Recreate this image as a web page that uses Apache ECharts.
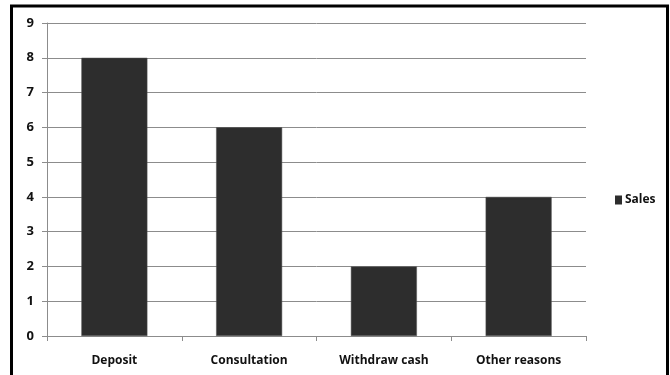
<!DOCTYPE html>
<html>
<head>
<meta charset="utf-8">
<script src="https://cdn.jsdelivr.net/npm/echarts@6/dist/echarts.min.js"></script>
<style>
  html, body { margin: 0; padding: 0; background: #fff; }
  #chart { width: 670px; height: 375px; }
</style>
</head>
<body>
<div id="chart"></div>
<script>
// Visit reasons and their counts
const categories = ['Deposit', 'Consultation', 'Withdraw cash', 'Other reasons'];
const salesValues = [8, 6, 2, 4];
const seriesName = 'Sales';
const yTicks = [0, 1, 2, 3, 4, 5, 6, 7, 8, 9];

const chart = echarts.init(document.getElementById('chart'), null, { renderer: 'canvas' });
const labelFont = '"Open Sans", Lato, sans-serif';

chart.setOption({
  animation: false,
  backgroundColor: '#ffffff',
  graphic: [{
    type: 'rect',
    shape: { x: 11.5, y: 6, width: 656, height: 400 },
    style: { fill: 'none', stroke: '#000', lineWidth: 3 },
    silent: true
  }],
  grid: { left: 47, right: 84, top: 23, bottom: 39, containLabel: false },
  legend: {
    data: [seriesName],
    orient: 'vertical',
    left: 610,
    top: 189,
    itemWidth: 7,
    itemHeight: 9,
    itemGap: 4,
    icon: 'rect',
    itemStyle: { borderWidth: 0 },
    textStyle: { fontFamily: labelFont, fontWeight: 'bold', fontSize: 12, color: '#111', padding: [0, 0, 0, -2] }
  },
  xAxis: {
    type: 'category',
    data: categories,
    axisLine: { lineStyle: { color: '#8c8c8c', width: 1 } },
    axisTick: { show: true, length: 5, alignWithLabel: false, lineStyle: { color: '#8c8c8c' } },
    axisLabel: { fontFamily: labelFont, fontWeight: 'bold', fontSize: 12, color: '#111', margin: 19 }
  },
  yAxis: {
    type: 'value',
    min: yTicks[0],
    max: yTicks[yTicks.length - 1],
    interval: 1,
    axisLine: { show: true, lineStyle: { color: '#8c8c8c', width: 1 } },
    axisTick: { show: true, length: 5, lineStyle: { color: '#8c8c8c' } },
    splitLine: { show: true, lineStyle: { color: '#8c8c8c', width: 1 } },
    axisLabel: { fontFamily: labelFont, fontWeight: 'bold', fontSize: 13, color: '#111', margin: 13 }
  },
  series: [{
    name: seriesName,
    type: 'bar',
    data: salesValues,
    barWidth: 66,
    itemStyle: { color: '#2d2d2d', borderColor: '#555', borderWidth: 0.5 }
  }]
});
</script>
</body>
</html>
